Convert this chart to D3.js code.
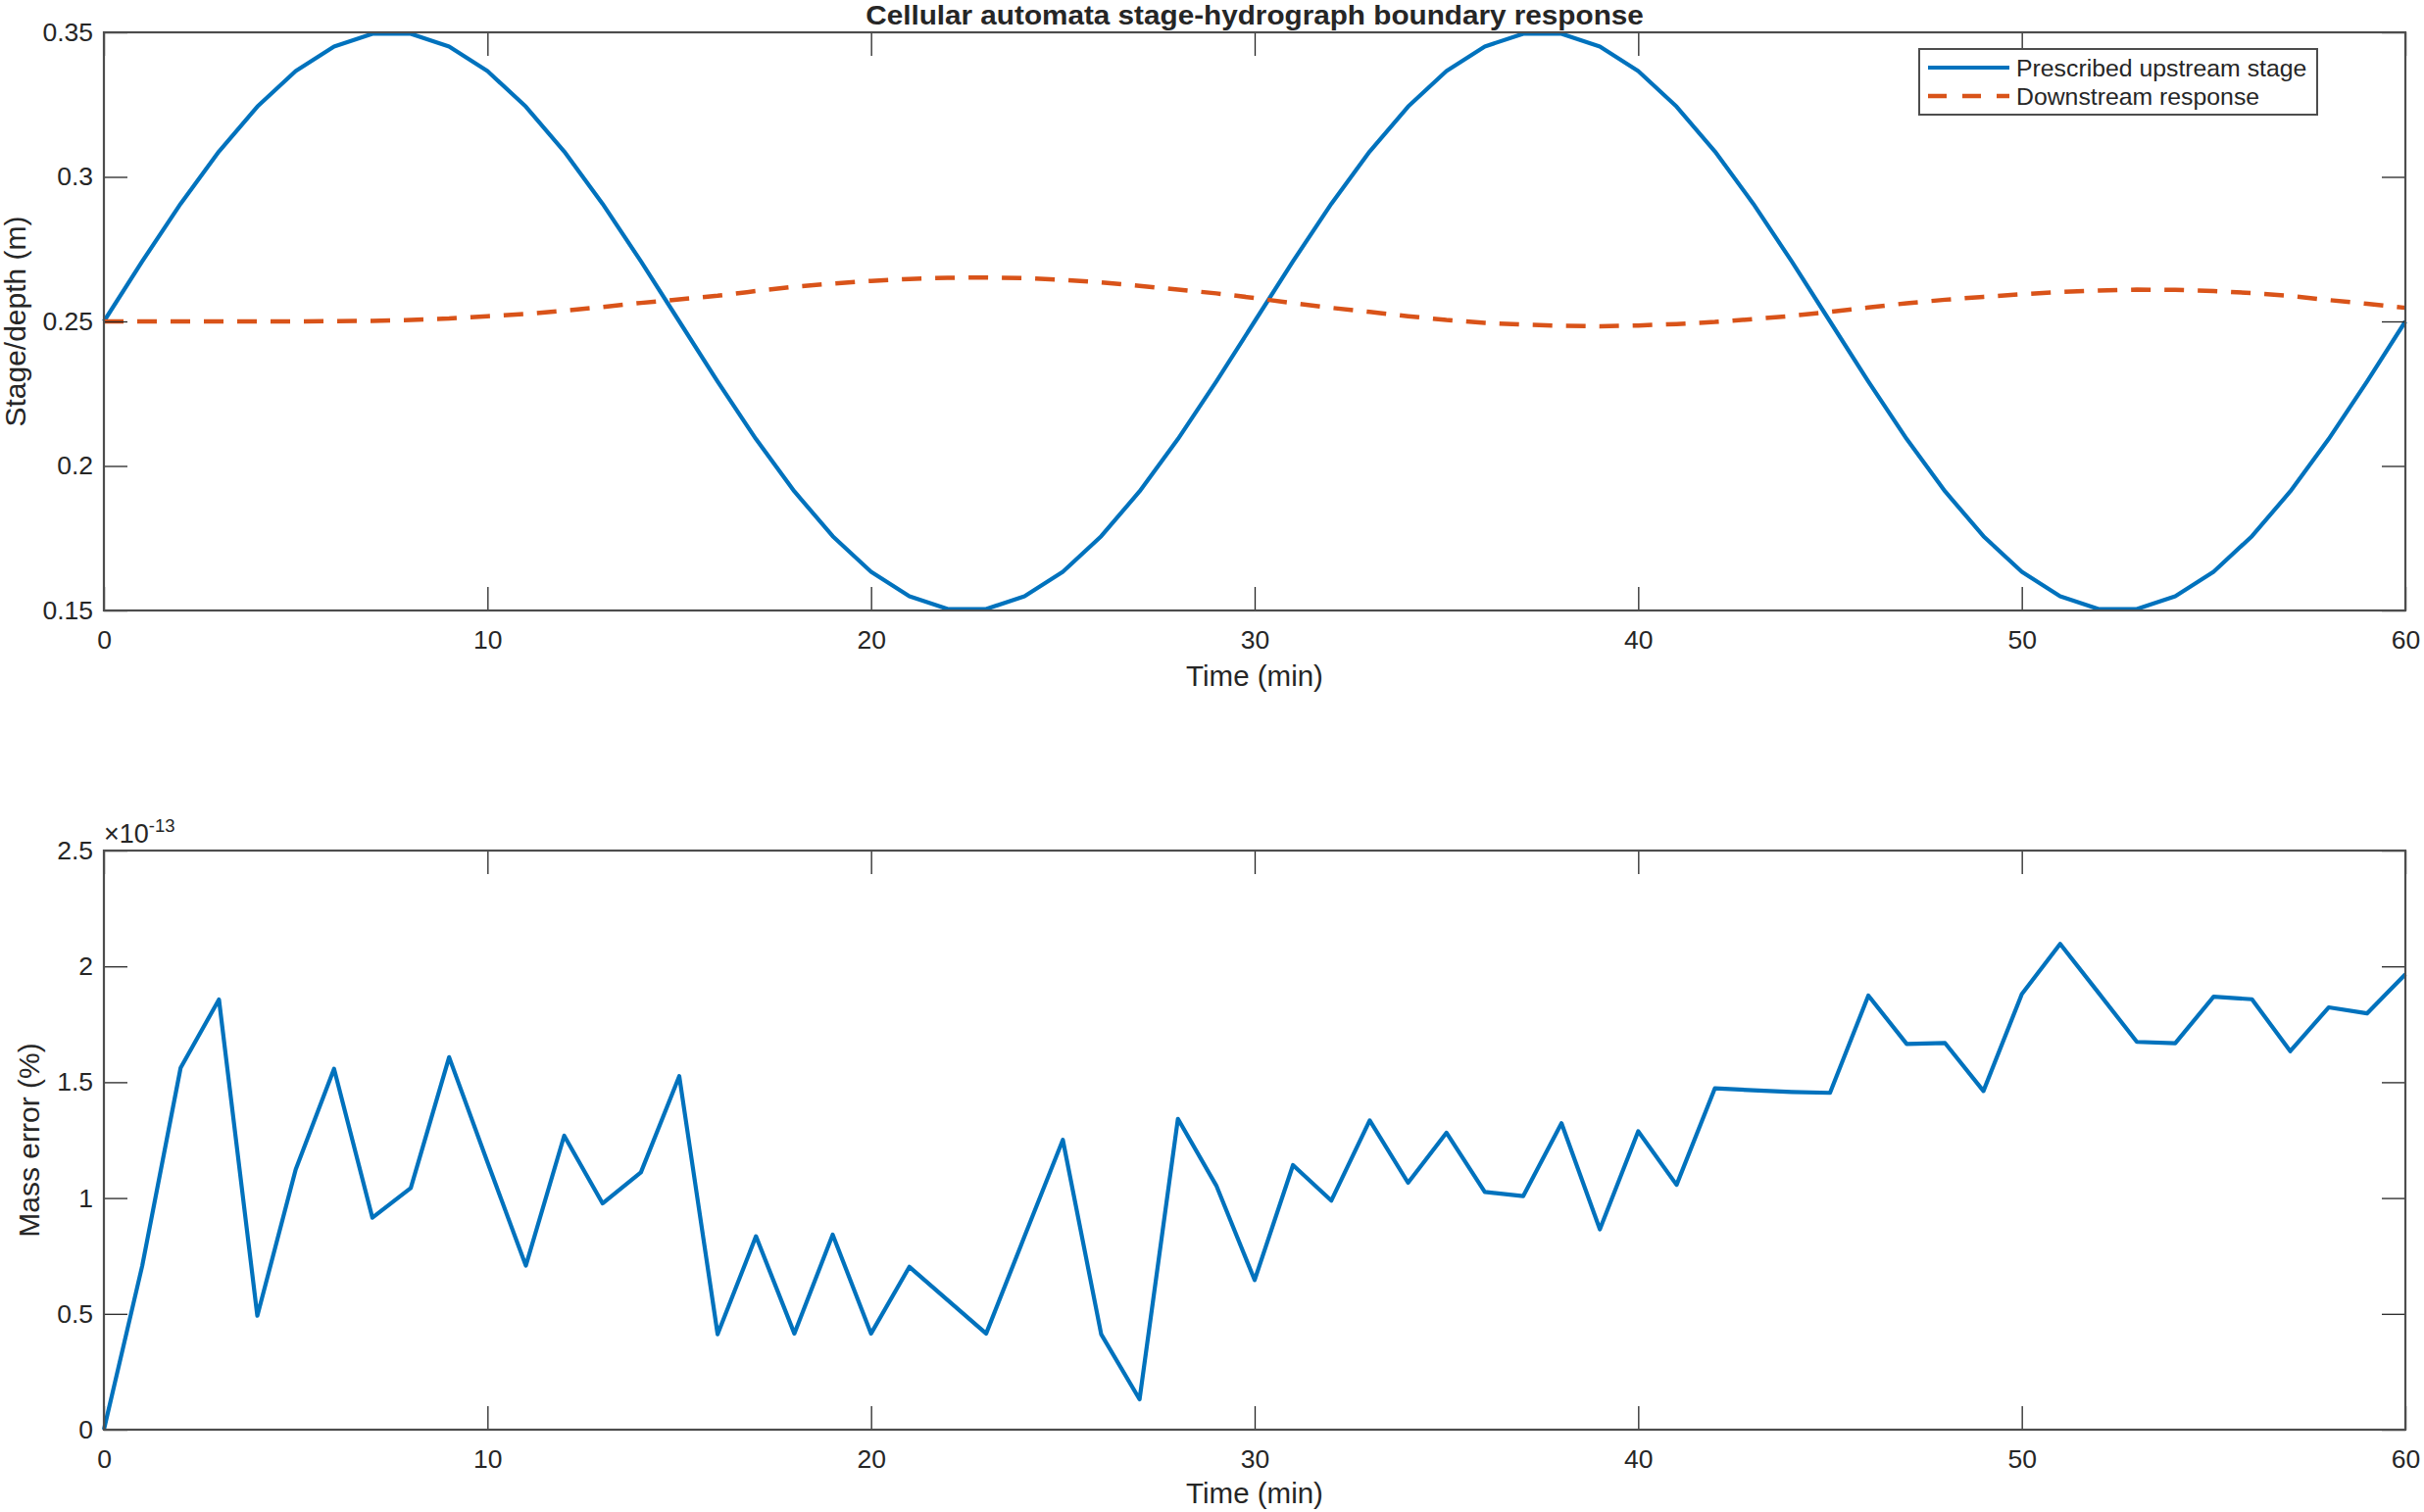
<!DOCTYPE html>
<html>
<head>
<meta charset="utf-8">
<script src="https://cdn.jsdelivr.net/npm/d3@7"></script>
<style>
  html, body { margin: 0; padding: 0; background: #fff; }
  svg text { font-family: "Liberation Sans", Arial, Helvetica, sans-serif; fill: #262626; }
</style>
</head>
<body>
<svg id="chart" width="2473" height="1543"></svg>
<script>
// time in minutes, one sample per minute
const time = d3.range(0, 61);

// prescribed upstream stage (m)
const upstreamStage = [
  0.2500, 0.2708, 0.2907, 0.3088, 0.3243, 0.3366, 0.3451, 0.3495, 0.3495, 0.3451,
  0.3366, 0.3243, 0.3088, 0.2907, 0.2708, 0.2500, 0.2292, 0.2093, 0.1912, 0.1757,
  0.1634, 0.1549, 0.1505, 0.1505, 0.1549, 0.1634, 0.1757, 0.1912, 0.2093, 0.2292,
  0.2500, 0.2708, 0.2907, 0.3088, 0.3243, 0.3366, 0.3451, 0.3495, 0.3495, 0.3451,
  0.3366, 0.3243, 0.3088, 0.2907, 0.2708, 0.2500, 0.2292, 0.2093, 0.1912, 0.1757,
  0.1634, 0.1549, 0.1505, 0.1505, 0.1549, 0.1634, 0.1757, 0.1912, 0.2093, 0.2292,
  0.2500
];

// downstream response (m)
const downstreamStage = [
  0.2500, 0.2500, 0.2500, 0.2500, 0.2500, 0.2500, 0.2501, 0.2502, 0.2505, 0.2510,
  0.2518, 0.2526, 0.2537, 0.2550, 0.2564, 0.2576, 0.2589, 0.2605, 0.2620, 0.2631,
  0.2640, 0.2647, 0.2651, 0.2652, 0.2650, 0.2644, 0.2635, 0.2623, 0.2610, 0.2597,
  0.2581, 0.2563, 0.2547, 0.2533, 0.2518, 0.2505, 0.2495, 0.2489, 0.2485, 0.2483,
  0.2486, 0.2491, 0.2498, 0.2508, 0.2519, 0.2533, 0.2548, 0.2563, 0.2575, 0.2585,
  0.2594, 0.2602, 0.2607, 0.2610, 0.2609, 0.2605, 0.2598, 0.2588, 0.2574, 0.2561,
  0.2547
];

// mass error (%), in units of 1e-13
const massError = [
  0.000, 0.708, 1.562, 1.857, 0.492, 1.123, 1.558, 0.915, 1.043, 1.608,
  1.155, 0.708, 1.269, 0.977, 1.111, 1.526, 0.412, 0.835, 0.415, 0.842,
  0.415, 0.703, 0.559, 0.415, 0.834, 1.251, 0.412, 0.131, 1.342, 1.054,
  0.646, 1.142, 0.989, 1.335, 1.066, 1.282, 1.026, 1.008, 1.323, 0.865,
  1.288, 1.057, 1.474, 1.465, 1.458, 1.454, 1.874, 1.665, 1.669, 1.462,
  1.880, 2.097, 1.886, 1.674, 1.668, 1.869, 1.858, 1.634, 1.823, 1.797,
  1.966
];

const timeTicks = [0, 10, 20, 30, 40, 50, 60];
const timeTickLabels = ["0", "10", "20", "30", "40", "50", "60"];
const stageTicks = [0.15, 0.2, 0.25, 0.3, 0.35];
const stageTickLabels = ["0.15", "0.2", "0.25", "0.3", "0.35"];
const errorTicks = [0, 0.5, 1, 1.5, 2, 2.5];
const errorTickLabels = ["0", "0.5", "1", "1.5", "2", "2.5"];

const legendLabels = ["Prescribed upstream stage", "Downstream response"];

const blue = "#0072BD";
const orange = "#D95319";
const axisColor = "#262626";

const svg = d3.select("#chart");

const left = 106, right = 2454;
const top1 = 33, bottom1 = 623;
const top2 = 868, bottom2 = 1459;
const tickLen = 24;

const x = d3.scaleLinear().domain([0, 60]).range([left, right]);
const yStage = d3.scaleLinear().domain([0.15, 0.35]).range([bottom1, top1]);
const yErr = d3.scaleLinear().domain([0, 2.5]).range([bottom2, top2]);

function drawAxes(y, yTicks, yLabels, top, bottom) {
  const g = svg.append("g");

  const fmtX = (d) => timeTickLabels[timeTicks.indexOf(d)];
  const fmtY = (d) => yLabels[yTicks.indexOf(d)];

  const bottomAxis = g.append("g")
    .attr("transform", `translate(0,${bottom})`)
    .call(d3.axisBottom(x).tickValues(timeTicks).tickFormat(fmtX)
      .tickSizeInner(-tickLen).tickSizeOuter(0).tickPadding(20));
  const topAxis = g.append("g")
    .attr("transform", `translate(0,${top})`)
    .call(d3.axisTop(x).tickValues(timeTicks).tickFormat("")
      .tickSizeInner(-tickLen).tickSizeOuter(0));
  const leftAxis = g.append("g")
    .attr("transform", `translate(${left},0)`)
    .call(d3.axisLeft(y).tickValues(yTicks).tickFormat(fmtY)
      .tickSizeInner(-tickLen).tickSizeOuter(0).tickPadding(11));
  const rightAxis = g.append("g")
    .attr("transform", `translate(${right},0)`)
    .call(d3.axisRight(y).tickValues(yTicks).tickFormat("")
      .tickSizeInner(-tickLen).tickSizeOuter(0));

  [bottomAxis, topAxis, leftAxis, rightAxis].forEach(a => {
    a.select(".domain").remove();
    a.selectAll(".tick line").attr("stroke", axisColor).attr("stroke-width", 1.3);
    a.selectAll(".tick text")
      .style("font-family", '"Liberation Sans", Arial, sans-serif')
      .attr("font-size", 26.5).attr("fill", axisColor);
  });

  g.append("rect")
    .attr("x", left).attr("y", top)
    .attr("width", right - left).attr("height", bottom - top)
    .attr("fill", "none").attr("stroke", "#4d4d4d").attr("stroke-width", 2.2);
  return g;
}

// ---- top panel
svg.append("clipPath").attr("id", "clip1")
  .append("rect").attr("x", left - 3).attr("y", top1 - 3)
  .attr("width", right - left + 6).attr("height", bottom1 - top1 + 6);

const stageLine = d3.line().x((d, i) => x(time[i])).y(d => yStage(d));

svg.append("path")
  .datum(upstreamStage)
  .attr("clip-path", "url(#clip1)")
  .attr("fill", "none").attr("stroke", blue).attr("stroke-width", 4.2)
  .attr("stroke-linejoin", "round")
  .attr("d", stageLine);

svg.append("path")
  .datum(downstreamStage)
  .attr("fill", "none").attr("stroke", orange).attr("stroke-width", 4.5)
  .attr("stroke-dasharray", "20,14")
  .attr("d", stageLine);

drawAxes(yStage, stageTicks, stageTickLabels, top1, bottom1);

// title: slightly widened glyphs like the reference
svg.append("text")
  .attr("transform", `translate(${(left + right) / 2},25) scale(1.1,1)`)
  .attr("text-anchor", "middle").attr("font-size", 27).attr("font-weight", "bold")
  .text("Cellular automata stage-hydrograph boundary response");

svg.append("text")
  .attr("x", (left + right) / 2).attr("y", 700)
  .attr("text-anchor", "middle").attr("font-size", 29.5)
  .text("Time (min)");

svg.append("text")
  .attr("transform", `translate(26,${(top1 + bottom1) / 2}) rotate(-90)`)
  .attr("text-anchor", "middle").attr("font-size", 30)
  .text("Stage/depth (m)");

// legend
const legend = svg.append("g");
legend.append("rect")
  .attr("x", 1958).attr("y", 50).attr("width", 406).attr("height", 67)
  .attr("fill", "#fff").attr("stroke", "#4d4d4d").attr("stroke-width", 2);
const legendStyles = [
  { color: blue, dash: null, width: 4.2 },
  { color: orange, dash: "19,16", width: 4.5 }
];
legendLabels.forEach((lab, i) => {
  const cy = 69 + i * 29;
  legend.append("line")
    .attr("x1", 1967).attr("x2", 2050).attr("y1", cy).attr("y2", cy)
    .attr("stroke", legendStyles[i].color).attr("stroke-width", legendStyles[i].width)
    .attr("stroke-dasharray", legendStyles[i].dash);
  legend.append("text")
    .attr("x", 2057).attr("y", cy + 8.5)
    .attr("font-size", 24.8)
    .text(lab);
});

// ---- bottom panel
const errLine = d3.line().x((d, i) => x(time[i])).y(d => yErr(d));

svg.append("path")
  .datum(massError)
  .attr("fill", "none").attr("stroke", blue).attr("stroke-width", 4.2)
  .attr("stroke-linejoin", "round")
  .attr("d", errLine);

drawAxes(yErr, errorTicks, errorTickLabels, top2, bottom2);

const expo = svg.append("text")
  .attr("x", left).attr("y", 860).attr("font-size", 27);
expo.append("tspan").text("\u00d710");
expo.append("tspan").attr("font-size", 18.5).attr("dy", -11).text("-13");

svg.append("text")
  .attr("x", (left + right) / 2).attr("y", 1534)
  .attr("text-anchor", "middle").attr("font-size", 29.5)
  .text("Time (min)");

svg.append("text")
  .attr("transform", `translate(40,${(top2 + bottom2) / 2}) rotate(-90)`)
  .attr("text-anchor", "middle").attr("font-size", 30)
  .text("Mass error (%)");
</script>
</body>
</html>
